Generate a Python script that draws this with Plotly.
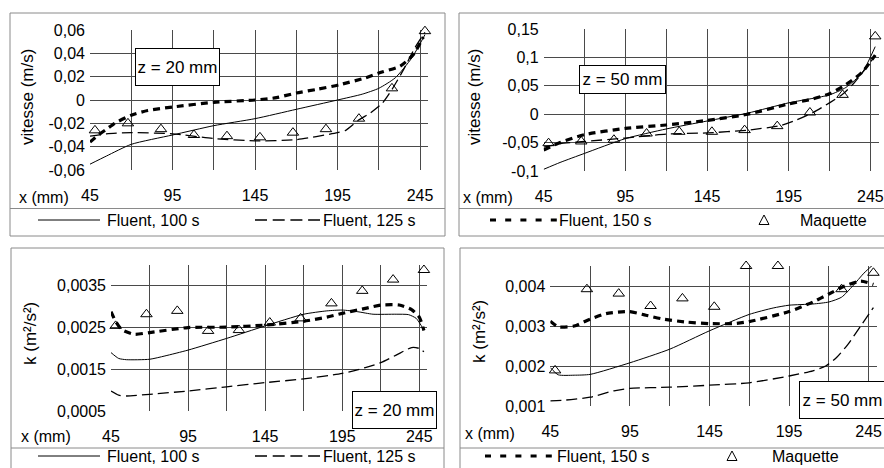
import plotly.graph_objects as go

W, H = 884, 468

# ------------------------------------------------------------------ data
x_ticks = [45, 70, 95, 120, 145, 170, 195, 220, 245]
x_ticktext = ["45", "", "95", "", "145", "", "195", "", "245"]

maq_x = [48, 68, 88, 108, 128, 148, 168, 188, 208, 228, 248]

# vitesse, z = 20 mm
v20_100_x = [45, 55, 70, 95, 120, 145, 170, 195, 210, 220, 230, 240, 248]
v20_100_y = [-0.055, -0.048, -0.038, -0.030, -0.022, -0.016, -0.008, 0.000, 0.005, 0.010, 0.019, 0.036, 0.056]
v20_125_x = [45, 55, 70, 95, 120, 145, 170, 195, 200, 208, 215, 222, 228, 235, 242, 248]
v20_125_y = [-0.031, -0.029, -0.028, -0.029, -0.033, -0.035, -0.034, -0.028, -0.026, -0.017, -0.011, -0.003, 0.009, 0.026, 0.045, 0.058]
v20_150_x = [45, 50, 55, 60, 70, 80, 95, 120, 145, 158, 170, 182, 196, 212, 222, 233, 241, 247]
v20_150_y = [-0.036, -0.030, -0.025, -0.020, -0.013, -0.009, -0.006, -0.002, 0.000, 0.002, 0.006, 0.009, 0.013, 0.019, 0.024, 0.029, 0.039, 0.054]
v20_maq_y = [-0.026, -0.020, -0.025, -0.030, -0.031, -0.032, -0.028, -0.025, -0.016, 0.010, 0.059]

# vitesse, z = 50 mm
v50_100_x = [45, 55, 70, 95, 120, 145, 170, 195, 210, 220, 230, 240, 248]
v50_100_y = [-0.097, -0.085, -0.069, -0.043, -0.026, -0.012, 0.002, 0.020, 0.028, 0.034, 0.047, 0.073, 0.119]
v50_125_x = [45, 55, 70, 95, 120, 145, 170, 190, 200, 210, 220, 228, 235, 242, 248]
v50_125_y = [-0.058, -0.052, -0.048, -0.042, -0.035, -0.033, -0.028, -0.020, -0.010, 0.003, 0.020, 0.035, 0.055, 0.080, 0.103]
v50_150_x = [45, 55, 70, 95, 120, 145, 170, 195, 210, 220, 230, 240, 248]
v50_150_y = [-0.063, -0.050, -0.036, -0.025, -0.019, -0.011, 0.000, 0.018, 0.027, 0.036, 0.052, 0.074, 0.104]
v50_maq_y = [-0.051, -0.048, -0.045, -0.034, -0.031, -0.031, -0.028, -0.021, 0.003, 0.034, 0.137]

# k, z = 20 mm
k20_100_x = [45, 50, 55, 70, 80, 95, 120, 145, 170, 185, 195, 205, 215, 230, 238, 243, 248]
k20_100_y = [0.00190, 0.00176, 0.00173, 0.00174, 0.00182, 0.00196, 0.00224, 0.00254, 0.00282, 0.00290, 0.00292, 0.00288, 0.00282, 0.00282, 0.00281, 0.00272, 0.00244]
k20_125_x = [45, 50, 55, 70, 95, 120, 145, 170, 195, 210, 220, 230, 240, 245, 248]
k20_125_y = [0.00098, 0.00088, 0.00086, 0.00090, 0.00098, 0.00108, 0.00118, 0.00127, 0.00140, 0.00154, 0.00166, 0.00184, 0.00202, 0.00200, 0.00192]
k20_150_x = [45, 48, 52, 60, 70, 95, 120, 145, 170, 185, 195, 210, 220, 232, 240, 245, 248]
k20_150_y = [0.00288, 0.00265, 0.00245, 0.00234, 0.00238, 0.00250, 0.00251, 0.00256, 0.00265, 0.00275, 0.00284, 0.00296, 0.00304, 0.00304, 0.00293, 0.00275, 0.00243]
k20_maq_y = [0.00254, 0.00282, 0.00290, 0.00242, 0.00244, 0.00262, 0.00272, 0.00308, 0.00338, 0.00365, 0.00388]

# k, z = 50 mm
k50_100_x = [45, 50, 60, 70, 95, 120, 145, 170, 185, 195, 210, 220, 228, 235, 242, 248]
k50_100_y = [0.00196, 0.00178, 0.00177, 0.00179, 0.00208, 0.00242, 0.00288, 0.00329, 0.00345, 0.00352, 0.00355, 0.00360, 0.00372, 0.00400, 0.00432, 0.00454]
k50_125_x = [45, 55, 70, 85, 95, 120, 145, 170, 195, 210, 218, 225, 232, 240, 248]
k50_125_y = [0.00113, 0.00115, 0.00122, 0.00138, 0.00144, 0.00147, 0.00152, 0.00158, 0.00175, 0.00188, 0.00200, 0.00222, 0.00254, 0.00300, 0.00346]
k50_150_x = [45, 50, 60, 70, 80, 95, 105, 115, 130, 145, 160, 170, 195, 210, 220, 230, 240, 248]
k50_150_y = [0.00312, 0.00298, 0.00300, 0.00317, 0.00331, 0.00336, 0.00327, 0.00318, 0.00310, 0.00306, 0.00306, 0.00311, 0.00336, 0.00360, 0.00380, 0.00400, 0.00412, 0.00404]
k50_maq_y = [0.00189, 0.00392, 0.00381, 0.00350, 0.00369, 0.00348, 0.00450, 0.00450, 0.00454, 0.00392, 0.00433]

v20_ticks = [-0.06, -0.04, -0.02, 0, 0.02, 0.04, 0.06]
v20_ticktext = ["-0,06", "-0,04", "-0,02", "0", "0,02", "0,04", "0,06"]
v50_ticks = [-0.1, -0.05, 0, 0.05, 0.1, 0.15]
v50_ticktext = ["-0,1", "-0,05", "0", "0,05", "0,1", "0,15"]
k20_ticks = [0.0005, 0.0015, 0.0025, 0.0035]
k20_ticktext = ["0,0005", "0,0015", "0,0025", "0,0035"]
k50_ticks = [0.001, 0.002, 0.003, 0.004]
k50_ticktext = ["0,001", "0,002", "0,003", "0,004"]

# ------------------------------------------------------------------ helpers
FONT = "Liberation Sans, Arial, sans-serif"
GRID = "#4a4a4a"
BORDER = "#8a8a8a"


def X(px):
    return px / W


def Y(py):
    return 1 - py / H


fig = go.Figure()

STY_100 = dict(color="black", width=1)
STY_125 = dict(color="black", width=1.3, dash="11px,5px")
STY_150 = dict(color="black", width=3.2, dash="7px,5px")

panels = [
    ("", v20_100_x, v20_100_y, v20_125_x, v20_125_y, v20_150_x, v20_150_y, v20_maq_y),
    ("2", v50_100_x, v50_100_y, v50_125_x, v50_125_y, v50_150_x, v50_150_y, v50_maq_y),
    ("3", k20_100_x, k20_100_y, k20_125_x, k20_125_y, k20_150_x, k20_150_y, k20_maq_y),
    ("4", k50_100_x, k50_100_y, k50_125_x, k50_125_y, k50_150_x, k50_150_y, k50_maq_y),
]

for suf, x1, y1, x2, y2, x3, y3, ym in panels:
    xa, ya = "x" + suf, "y" + suf
    fig.add_trace(go.Scatter(x=x1, y=y1, mode="lines", line=dict(**STY_100, shape="spline", smoothing=0.6),
                             xaxis=xa, yaxis=ya, showlegend=False, name="Fluent, 100 s"))
    fig.add_trace(go.Scatter(x=x2, y=y2, mode="lines", line=dict(**STY_125, shape="spline", smoothing=0.6),
                             xaxis=xa, yaxis=ya, showlegend=False, name="Fluent, 125 s"))
    fig.add_trace(go.Scatter(x=x3, y=y3, mode="lines", line=dict(**STY_150, shape="spline", smoothing=0.6),
                             xaxis=xa, yaxis=ya, showlegend=False, name="Fluent, 150 s"))
    fig.add_trace(go.Scatter(x=maq_x, y=ym, mode="markers",
                             marker=dict(symbol="triangle-up-open", size=10, color="black",
                                         line=dict(width=1, color="black")),
                             cliponaxis=False, xaxis=xa, yaxis=ya, showlegend=False, name="Maquette"))

# plot areas in pixels: (x0, x1, ytop, ybottom)
areas = [
    (90, 428.25, 30, 170),
    (543.7, 878.5, 29, 171),
    (111, 427, 265, 411),
    (550.3, 876.6, 266, 406),
]
yspecs = [
    ([-0.06, 0.06], v20_ticks, v20_ticktext),
    ([-0.1, 0.15], v50_ticks, v50_ticktext),
    ([0.0005, 0.004], k20_ticks, k20_ticktext),
    ([0.001, 0.0045], k50_ticks, k50_ticktext),
]

layout = dict(
    template="none",
    width=W, height=H, margin=dict(l=0, r=0, t=0, b=0, pad=0, autoexpand=False),
    paper_bgcolor="white", plot_bgcolor="white",
    font=dict(family=FONT, size=16, color="black"),
    showlegend=False,
)

for i, ((x0, x1, yt, yb), (yr, yt_vals, yt_text)) in enumerate(zip(areas, yspecs)):
    suf = "" if i == 0 else str(i + 1)
    layout["xaxis" + suf] = dict(
        domain=[X(x0), X(x1)], range=[45, 250], anchor="y" + suf, automargin=False,
        tickmode="array", tickvals=x_ticks, ticktext=x_ticktext,
        showgrid=True, gridcolor=GRID, gridwidth=1, zeroline=False,
        showline=False, ticks="", ticklabelstandoff=14,
        tickfont=dict(size=16), fixedrange=True,
    )
    layout["yaxis" + suf] = dict(
        domain=[Y(yb), Y(yt)], range=yr, anchor="x" + suf, automargin=False,
        tickmode="array", tickvals=yt_vals, ticktext=yt_text,
        showgrid=True, gridcolor=GRID, gridwidth=1, zeroline=False,
        showline=False, ticks="", ticklabelstandoff=4,
        tickfont=dict(size=16), fixedrange=True,
    )

fig.update_layout(**layout)

shapes = []
ann = []

# panel frames: (left, top, right, bottom, separator y)
frames = [
    (10, 13, 445, 236, 208.5),
    (459, 13, 890, 236, 208.5),
    (11, 248, 444, 475, 448),
    (460, 248, 890, 475, 448),
]
for (l, t, r, b, sep) in frames:
    shapes.append(dict(type="rect", xref="paper", yref="paper", x0=X(l), x1=X(r), y0=Y(b), y1=Y(t),
                       line=dict(color=BORDER, width=1), layer="below"))
    shapes.append(dict(type="line", xref="paper", yref="paper", x0=X(l), x1=X(r), y0=Y(sep), y1=Y(sep),
                       line=dict(color=BORDER, width=1)))

# axis titles
ytitles = [("vitesse (m/s)", 27, 97), ("vitesse (m/s)", 474, 97),
           ("k (m²/s²)", 30, 333), ("k (m²/s²)", 479, 331)]
for txt, px, py in ytitles:
    ann.append(dict(text=txt, xref="paper", yref="paper", x=X(px), y=Y(py), showarrow=False,
                    textangle=-90, xanchor="center", yanchor="middle", font=dict(size=17)))

xlabels = [(44, 197), (488, 197), (46, 436), (490, 433)]
for px, py in xlabels:
    ann.append(dict(text="x (mm)", xref="paper", yref="paper", x=X(px), y=Y(py), showarrow=False,
                    xanchor="center", yanchor="middle", font=dict(size=16)))

# z boxes: (text, left, top, width, height)
zboxes = [("z = 20 mm", 135, 48, 85, 38), ("z = 50 mm", 579, 65, 87, 29),
          ("z = 20 mm", 352, 391, 85, 38), ("z = 50 mm", 799, 381, 87, 38)]
for txt, l, t, w, h in zboxes:
    ann.append(dict(text=txt, xref="paper", yref="paper", x=X(l), y=Y(t), showarrow=False,
                    xanchor="left", yanchor="top", width=w - 2, height=h - 2, borderpad=0,
                    bordercolor="black", borderwidth=1, bgcolor="white", font=dict(size=17)))


def leg_line(x0, x1, y, style):
    d = dict(color=style["color"], width=style["width"])
    if "dash" in style:
        d["dash"] = style["dash"]
    shapes.append(dict(type="line", xref="paper", yref="paper", x0=X(x0), x1=X(x1), y0=Y(y), y1=Y(y), line=d))


def leg_text(txt, x, y):
    ann.append(dict(text=txt, xref="paper", yref="paper", x=X(x), y=Y(y), showarrow=False,
                    xanchor="left", yanchor="middle", font=dict(size=16)))


def leg_tri(cx, cy):
    path = "M {} {} L {} {} L {} {} Z".format(X(cx - 5), Y(cy + 4.5), X(cx + 5), Y(cy + 4.5), X(cx), Y(cy - 5))
    shapes.append(dict(type="path", xref="paper", yref="paper", path=path, line=dict(color="black", width=1)))


LEG_125 = dict(color="black", width=1.3, dash="12px,5.7px")
LEG_150 = dict(color="black", width=3.2, dash="6px,9.2px")

for ly in (220, 456):
    leg_line(38, 100, ly, STY_100)
    leg_text("Fluent, 100 s", 105, ly)
    leg_line(255, 320, ly, LEG_125)
    leg_text("Fluent, 125 s", 321, ly)

leg_line(490, 557, 220, LEG_150)
leg_text("Fluent, 150 s", 557, 220)
leg_tri(764, 220)
leg_text("Maquette", 798, 220)

leg_line(485, 552, 456, LEG_150)
leg_text("Fluent, 150 s", 555, 456)
leg_tri(732, 456)
leg_text("Maquette", 770, 456)

fig.update_layout(shapes=shapes, annotations=ann)

fig.write_html("out.html", config={"displayModeBar": False, "staticPlot": True},
               post_script="document.body.style.margin='0';document.body.style.overflow='hidden';")
